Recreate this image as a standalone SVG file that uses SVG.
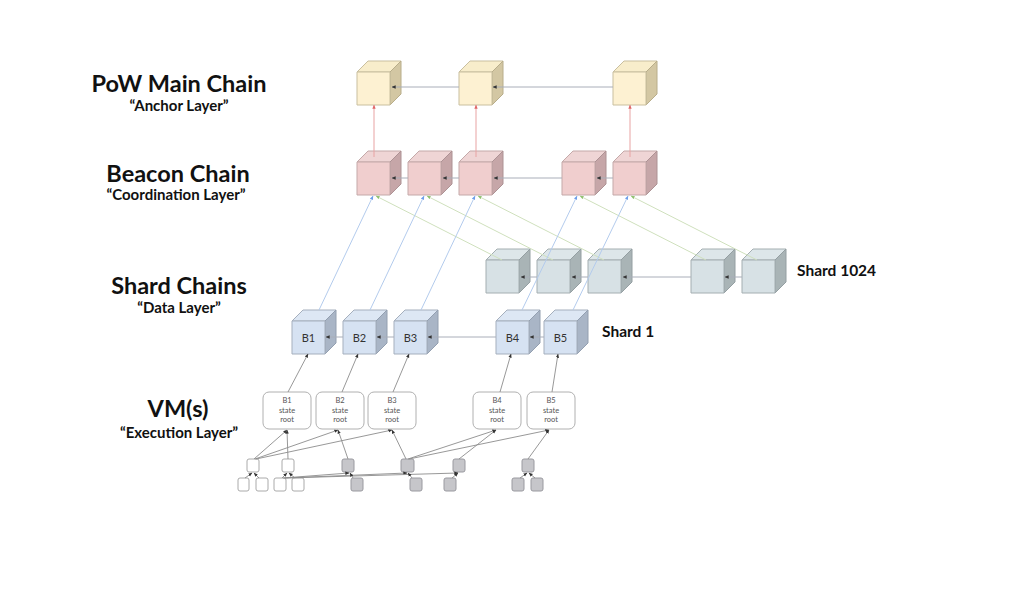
<svg xmlns="http://www.w3.org/2000/svg" width="1016" height="590" viewBox="0 0 1016 590">
<style>
.t1{font-family:Lato,"Liberation Sans",sans-serif;font-weight:700;font-size:23.5px;fill:#111;text-anchor:middle}
.t2{font-family:Lato,"Liberation Sans",sans-serif;font-weight:700;font-size:15px;fill:#111;text-anchor:middle}
.t3{font-family:Lato,"Liberation Sans",sans-serif;font-weight:700;font-size:15.5px;fill:#111}
.bl{font-family:Lato,"Liberation Sans",sans-serif;font-size:11px;fill:#333;text-anchor:middle}
.sr{font-family:Lato,"Liberation Sans",sans-serif;font-size:7.5px;fill:#555;text-anchor:middle}
.cube .fr,.cube .tp,.cube .sd{stroke-width:1;stroke-linejoin:round}
.pow .fr{fill:#fdf1d2;stroke:#c9bf9f}.pow .tp{fill:#f8edcb;stroke:#c9bf9f}.pow .sd{fill:#d3c7a3;stroke:#b8ad8a}
.bea .fr{fill:#f0cece;stroke:#c4a9a9}.bea .tp{fill:#efd5d5;stroke:#c4a9a9}.bea .sd{fill:#c6a6a8;stroke:#ad9294}
.s24 .fr{fill:#d7e1e5;stroke:#a4aeb1}.s24 .tp{fill:#dde6e9;stroke:#a4aeb1}.s24 .sd{fill:#a9b4b6;stroke:#949fa2}
.s1 .fr{fill:#d6e2f2;stroke:#a5afbd}.s1 .tp{fill:#dde7f4;stroke:#a5afbd}.s1 .sd{fill:#a9b5c6;stroke:#939fb0}
.root{fill:#fff;stroke:#b0b0b0;stroke-width:1}
.wn{fill:#fff;stroke:#aaa;stroke-width:1}
.gn{fill:#c6c6ca;stroke:#9a9aa0;stroke-width:1}
.ch{stroke:#a9aeb9;stroke-width:1;fill:none;marker-end:url(#ak)}
.rd{stroke:#e8a3a3;stroke-width:1;fill:none;marker-end:url(#ar)}
.bu{stroke:#b3cbed;stroke-width:1;fill:none;marker-end:url(#ab)}
.gr{stroke:#cfe0bd;stroke-width:1;fill:none;marker-end:url(#ag)}
.tr{stroke:#8c8c8c;stroke-width:0.9;fill:none;marker-end:url(#ak)}
</style>
<defs>
<marker id="ak" viewBox="0 0 6 6" refX="5.5" refY="3" markerWidth="4" markerHeight="4" orient="auto" markerUnits="userSpaceOnUse"><path d="M0,0.5 L6,3 L0,5.5 z" fill="#333"/></marker>
<marker id="ar" viewBox="0 0 6 6" refX="5.5" refY="3" markerWidth="4" markerHeight="4" orient="auto" markerUnits="userSpaceOnUse"><path d="M0,0.5 L6,3 L0,5.5 z" fill="#e06666"/></marker>
<marker id="ab" viewBox="0 0 6 6" refX="5.5" refY="3" markerWidth="4" markerHeight="4" orient="auto" markerUnits="userSpaceOnUse"><path d="M0,0.5 L6,3 L0,5.5 z" fill="#6d9eeb"/></marker>
<marker id="ag" viewBox="0 0 6 6" refX="5.5" refY="3" markerWidth="4" markerHeight="4" orient="auto" markerUnits="userSpaceOnUse"><path d="M0,0.5 L6,3 L0,5.5 z" fill="#8fc16f"/></marker>
</defs>
<rect width="1016" height="590" fill="#fff"/>

<g id="labels">
<text class="t1" x="179" y="92">PoW Main Chain</text>
<text class="t2" x="179" y="111">“Anchor Layer”</text>
<text class="t1" x="178" y="182">Beacon Chain</text>
<text class="t2" x="176" y="200">“Coordination Layer”</text>
<text class="t1" x="179" y="294">Shard Chains</text>
<text class="t2" x="179" y="313">“Data Layer”</text>
<text class="t1" x="178" y="417">VM(s)</text>
<text class="t2" x="179" y="438">“Execution Layer”</text>
<text class="t3" x="797" y="276">Shard 1024</text>
<text class="t3" x="602" y="337">Shard 1</text>
</g>

<g id="pow-chain">
<g id="pow1" class="cube pow" transform="translate(357,72)"><polygon class="tp" points="0,0 11,-11 44,-11 33,0"/><polygon class="sd" points="33,0 44,-11 44,22 33,33"/><rect class="fr" width="33" height="33"/></g>
<g id="pow2" class="cube pow" transform="translate(459,72)"><polygon class="tp" points="0,0 11,-11 44,-11 33,0"/><polygon class="sd" points="33,0 44,-11 44,22 33,33"/><rect class="fr" width="33" height="33"/></g>
<g id="pow3" class="cube pow" transform="translate(613,72)"><polygon class="tp" points="0,0 11,-11 44,-11 33,0"/><polygon class="sd" points="33,0 44,-11 44,22 33,33"/><rect class="fr" width="33" height="33"/></g>
</g>
<g id="beacon-chain">
<g id="bc1" class="cube bea" transform="translate(357,162)"><polygon class="tp" points="0,0 11,-11 44,-11 33,0"/><polygon class="sd" points="33,0 44,-11 44,22 33,33"/><rect class="fr" width="33" height="33"/></g>
<g id="bc2" class="cube bea" transform="translate(408,162)"><polygon class="tp" points="0,0 11,-11 44,-11 33,0"/><polygon class="sd" points="33,0 44,-11 44,22 33,33"/><rect class="fr" width="33" height="33"/></g>
<g id="bc3" class="cube bea" transform="translate(459,162)"><polygon class="tp" points="0,0 11,-11 44,-11 33,0"/><polygon class="sd" points="33,0 44,-11 44,22 33,33"/><rect class="fr" width="33" height="33"/></g>
<g id="bc4" class="cube bea" transform="translate(562,162)"><polygon class="tp" points="0,0 11,-11 44,-11 33,0"/><polygon class="sd" points="33,0 44,-11 44,22 33,33"/><rect class="fr" width="33" height="33"/></g>
<g id="bc5" class="cube bea" transform="translate(613,162)"><polygon class="tp" points="0,0 11,-11 44,-11 33,0"/><polygon class="sd" points="33,0 44,-11 44,22 33,33"/><rect class="fr" width="33" height="33"/></g>
</g>
<g id="shard1024">
<g id="s24-1" class="cube s24" transform="translate(486,260)"><polygon class="tp" points="0,0 11,-11 44,-11 33,0"/><polygon class="sd" points="33,0 44,-11 44,22 33,33"/><rect class="fr" width="33" height="33"/></g>
<g id="s24-2" class="cube s24" transform="translate(537,260)"><polygon class="tp" points="0,0 11,-11 44,-11 33,0"/><polygon class="sd" points="33,0 44,-11 44,22 33,33"/><rect class="fr" width="33" height="33"/></g>
<g id="s24-3" class="cube s24" transform="translate(588,260)"><polygon class="tp" points="0,0 11,-11 44,-11 33,0"/><polygon class="sd" points="33,0 44,-11 44,22 33,33"/><rect class="fr" width="33" height="33"/></g>
<g id="s24-4" class="cube s24" transform="translate(691,260)"><polygon class="tp" points="0,0 11,-11 44,-11 33,0"/><polygon class="sd" points="33,0 44,-11 44,22 33,33"/><rect class="fr" width="33" height="33"/></g>
<g id="s24-5" class="cube s24" transform="translate(742,260)"><polygon class="tp" points="0,0 11,-11 44,-11 33,0"/><polygon class="sd" points="33,0 44,-11 44,22 33,33"/><rect class="fr" width="33" height="33"/></g>
</g>
<g id="shard1">
<g id="sb1" class="cube s1" transform="translate(292,321)"><polygon class="tp" points="0,0 11,-11 44,-11 33,0"/><polygon class="sd" points="33,0 44,-11 44,22 33,33"/><rect class="fr" width="33" height="33"/><text class="bl" x="16.5" y="20.5">B1</text></g>
<g id="sb2" class="cube s1" transform="translate(343,321)"><polygon class="tp" points="0,0 11,-11 44,-11 33,0"/><polygon class="sd" points="33,0 44,-11 44,22 33,33"/><rect class="fr" width="33" height="33"/><text class="bl" x="16.5" y="20.5">B2</text></g>
<g id="sb3" class="cube s1" transform="translate(394,321)"><polygon class="tp" points="0,0 11,-11 44,-11 33,0"/><polygon class="sd" points="33,0 44,-11 44,22 33,33"/><rect class="fr" width="33" height="33"/><text class="bl" x="16.5" y="20.5">B3</text></g>
<g id="sb4" class="cube s1" transform="translate(496,321)"><polygon class="tp" points="0,0 11,-11 44,-11 33,0"/><polygon class="sd" points="33,0 44,-11 44,22 33,33"/><rect class="fr" width="33" height="33"/><text class="bl" x="16.5" y="20.5">B4</text></g>
<g id="sb5" class="cube s1" transform="translate(544,321)"><polygon class="tp" points="0,0 11,-11 44,-11 33,0"/><polygon class="sd" points="33,0 44,-11 44,22 33,33"/><rect class="fr" width="33" height="33"/><text class="bl" x="16.5" y="20.5">B5</text></g>
</g>
<g id="state-roots">
<g id="sr1"><rect class="root" x="263" y="392" width="48" height="37" rx="6"/><text class="sr" x="287" y="403">B1</text><text class="sr" x="287" y="413">state</text><text class="sr" x="287" y="422">root</text></g>
<g id="sr2"><rect class="root" x="316" y="392" width="48" height="37" rx="6"/><text class="sr" x="340" y="403">B2</text><text class="sr" x="340" y="413">state</text><text class="sr" x="340" y="422">root</text></g>
<g id="sr3"><rect class="root" x="368" y="392" width="48" height="37" rx="6"/><text class="sr" x="392" y="403">B3</text><text class="sr" x="392" y="413">state</text><text class="sr" x="392" y="422">root</text></g>
<g id="sr4"><rect class="root" x="473" y="392" width="48" height="37" rx="6"/><text class="sr" x="497" y="403">B4</text><text class="sr" x="497" y="413">state</text><text class="sr" x="497" y="422">root</text></g>
<g id="sr5"><rect class="root" x="527" y="392" width="48" height="37" rx="6"/><text class="sr" x="551" y="403">B5</text><text class="sr" x="551" y="413">state</text><text class="sr" x="551" y="422">root</text></g>
</g>
<g id="trie">
<rect id="na" class="wn" x="247" y="459" width="12" height="13" rx="2"/>
<rect id="nb" class="wn" x="282" y="459" width="12" height="13" rx="2"/>
<rect id="nc" class="gn" x="342" y="459" width="12" height="13" rx="2"/>
<rect id="nd" class="gn" x="401" y="459" width="13" height="13" rx="2"/>
<rect id="ne" class="gn" x="453" y="459" width="12" height="13" rx="2"/>
<rect id="nf" class="gn" x="522" y="459" width="12" height="13" rx="2"/>
<rect id="w1" class="wn" x="238" y="478" width="11" height="13" rx="2"/>
<rect id="w2" class="wn" x="256" y="478" width="12" height="13" rx="2"/>
<rect id="w3" class="wn" x="274" y="478" width="12" height="13" rx="2"/>
<rect id="w4" class="wn" x="292" y="478" width="12" height="13" rx="2"/>
<rect id="ng" class="gn" x="351" y="478" width="12" height="13" rx="2"/>
<rect id="nh" class="gn" x="410" y="478" width="12" height="13" rx="2"/>
<rect id="ni" class="gn" x="444" y="478" width="12" height="13" rx="2"/>
<rect id="nj" class="gn" x="512" y="478" width="12" height="13" rx="2"/>
<rect id="nk" class="gn" x="531" y="478" width="12" height="13" rx="2"/>
</g>

<g id="connectors">
<line class="ch" x1="613" y1="87" x2="493" y2="87"/>
<line class="ch" x1="459" y1="87" x2="392" y2="87"/>
<line class="ch" x1="613" y1="178" x2="597" y2="178"/>
<line class="ch" x1="562" y1="178" x2="494" y2="178"/>
<line class="ch" x1="459" y1="178" x2="443" y2="178"/>
<line class="ch" x1="408" y1="178" x2="392" y2="178"/>
<line class="ch" x1="742" y1="277" x2="725" y2="277"/>
<line class="ch" x1="691" y1="277" x2="623" y2="277"/>
<line class="ch" x1="588" y1="277" x2="572" y2="277"/>
<line class="ch" x1="537" y1="277" x2="521" y2="277"/>
<line class="ch" x1="544" y1="337" x2="530" y2="337"/>
<line class="ch" x1="496" y1="337" x2="428" y2="337"/>
<line class="ch" x1="394" y1="337" x2="377" y2="337"/>
<line class="ch" x1="343" y1="337" x2="326" y2="337"/>
<line class="rd" x1="374" y1="157" x2="374" y2="105"/>
<line class="rd" x1="476" y1="157" x2="476" y2="105"/>
<line class="rd" x1="630" y1="157" x2="630" y2="105"/>
<line class="gr" x1="502" y1="260" x2="376" y2="196"/>
<line class="gr" x1="553" y1="260" x2="427" y2="196"/>
<line class="gr" x1="604" y1="260" x2="478" y2="196"/>
<line class="gr" x1="706" y1="260" x2="580" y2="196"/>
<line class="gr" x1="757" y1="260" x2="631" y2="196"/>
<line class="bu" x1="319" y1="310" x2="373" y2="196"/>
<line class="bu" x1="370" y1="310" x2="424" y2="196"/>
<line class="bu" x1="421" y1="310" x2="475" y2="196"/>
<line class="bu" x1="522" y1="310" x2="577" y2="196"/>
<line class="bu" x1="573" y1="310" x2="628" y2="196"/>
<line class="tr" x1="288" y1="392" x2="308" y2="354"/>
<line class="tr" x1="342" y1="392" x2="358" y2="354"/>
<line class="tr" x1="393" y1="392" x2="409" y2="354"/>
<line class="tr" x1="500" y1="392" x2="511" y2="354"/>
<line class="tr" x1="552" y1="392" x2="558" y2="354"/>
<line class="tr" x1="254" y1="459" x2="287" y2="430"/>
<line class="tr" x1="255" y1="459" x2="338" y2="430"/>
<line class="tr" x1="256" y1="459" x2="392" y2="430"/>
<line class="tr" x1="288" y1="459" x2="287" y2="430"/>
<line class="tr" x1="348" y1="459" x2="338" y2="430"/>
<line class="tr" x1="406" y1="459" x2="392" y2="430"/>
<line class="tr" x1="408" y1="459" x2="496" y2="430"/>
<line class="tr" x1="409" y1="459" x2="549" y2="430"/>
<line class="tr" x1="459" y1="459" x2="496" y2="430"/>
<line class="tr" x1="528" y1="459" x2="549" y2="430"/>
<line class="tr" x1="245" y1="478" x2="252" y2="473"/>
<line class="tr" x1="259" y1="478" x2="254" y2="473"/>
<line class="tr" x1="282" y1="478" x2="287" y2="473"/>
<line class="tr" x1="295" y1="478" x2="289" y2="473"/>
<line class="tr" x1="283" y1="478" x2="349" y2="473"/>
<line class="tr" x1="284" y1="478" x2="407" y2="473"/>
<line class="tr" x1="285" y1="478" x2="458" y2="473"/>
<line class="tr" x1="353" y1="478" x2="350" y2="473"/>
<line class="tr" x1="412" y1="478" x2="408" y2="473"/>
<line class="tr" x1="452" y1="478" x2="458" y2="473"/>
<line class="tr" x1="520" y1="478" x2="527" y2="473"/>
<line class="tr" x1="535" y1="478" x2="529" y2="473"/>
</g>
</svg>
